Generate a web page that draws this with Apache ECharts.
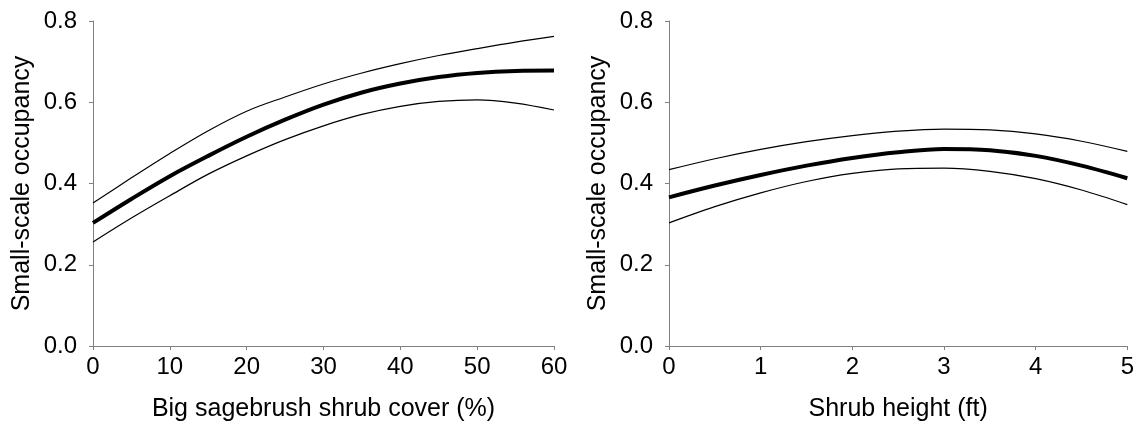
<!DOCTYPE html>
<html>
<head>
<meta charset="utf-8">
<script src="https://cdn.jsdelivr.net/npm/echarts@6/dist/echarts.min.js"></script>
<style>
    html, body { margin: 0; padding: 0; background: #fff; }
    #chart { width: 1137px; height: 430px; }
</style>
</head>
<body>
<div id="chart"></div>
<script>
// left panel: big sagebrush shrub cover (%)
var coverX = [0, 5, 10, 15, 20, 25, 30, 35, 40, 45, 50, 55, 60];
var coverMean = [0.303, 0.362, 0.418, 0.468, 0.515, 0.557, 0.594, 0.624, 0.646, 0.662, 0.672, 0.677, 0.678];
var coverUpper = [0.352, 0.414, 0.474, 0.530, 0.578, 0.613, 0.645, 0.672, 0.695, 0.715, 0.732, 0.748, 0.762];
var coverLower = [0.256, 0.315, 0.370, 0.423, 0.468, 0.508, 0.542, 0.570, 0.590, 0.602, 0.606, 0.598, 0.581];

// right panel: shrub height (ft)
var heightX = [0, 0.5, 1, 1.5, 2, 2.5, 3, 3.5, 4, 4.5, 5];
var heightMean = [0.366, 0.395, 0.421, 0.444, 0.463, 0.477, 0.485, 0.482, 0.468, 0.444, 0.413];
var heightUpper = [0.434, 0.461, 0.484, 0.503, 0.518, 0.529, 0.534, 0.532, 0.522, 0.504, 0.479];
var heightLower = [0.303, 0.343, 0.377, 0.405, 0.425, 0.436, 0.438, 0.430, 0.412, 0.384, 0.348];

var yTicks = ['0.0', '0.2', '0.4', '0.6', '0.8'];

function pairs(xs, ys) {
    return xs.map(function (x, i) { return [x, ys[i]]; });
}

var font = 'Liberation Sans, Arial, sans-serif';
var axisColor = '#808080';

function xAxis(idx, name, max, interval) {
    return {
        gridIndex: idx,
        type: 'value',
        min: 0,
        max: max,
        interval: interval,
        name: name,
        nameLocation: 'middle',
        nameGap: 51,
        nameTextStyle: { color: '#000', fontSize: 25, fontFamily: font },
        axisLine: { show: true, lineStyle: { color: axisColor, width: 1 } },
        axisTick: { show: true, inside: false, length: 4, lineStyle: { color: axisColor } },
        axisLabel: { color: '#000', fontSize: 24, fontFamily: font, margin: 9 },
        splitLine: { show: false }
    };
}

function yAxis(idx) {
    return {
        gridIndex: idx,
        type: 'value',
        min: 0,
        max: 0.8,
        interval: 0.2,
        name: 'Small-scale occupancy',
        nameLocation: 'middle',
        nameGap: 58,
        nameTextStyle: { color: '#000', fontSize: 25, fontFamily: font },
        axisLine: { show: true, lineStyle: { color: axisColor, width: 1 } },
        axisTick: { show: true, inside: false, length: 4, lineStyle: { color: axisColor } },
        axisLabel: {
            color: '#000', fontSize: 24, fontFamily: font, margin: 16,
            formatter: function (v) { return yTicks[Math.round(v / 0.2)]; }
        },
        splitLine: { show: false }
    };
}

function line(idx, data, width) {
    return {
        type: 'line',
        xAxisIndex: idx,
        yAxisIndex: idx,
        data: data,
        smooth: 0.35,
        showSymbol: false,
        silent: true,
        lineStyle: { color: '#000', width: width }
    };
}

var option = {
    animation: false,
    backgroundColor: '#fff',
    grid: [
        { left: 93, top: 21, width: 461, height: 325 },
        { left: 669, top: 21, width: 462, height: 325 }
    ],
    xAxis: [
        xAxis(0, 'Big sagebrush shrub cover (%)', 60, 10),
        xAxis(1, 'Shrub height (ft)', 5, 1)
    ],
    yAxis: [yAxis(0), yAxis(1)],
    series: [
        line(0, pairs(coverX, coverUpper), 1.2),
        line(0, pairs(coverX, coverLower), 1.2),
        line(0, pairs(coverX, coverMean), 4),
        line(1, pairs(heightX, heightUpper), 1.2),
        line(1, pairs(heightX, heightLower), 1.2),
        line(1, pairs(heightX, heightMean), 4)
    ]
};

var myChart = echarts.init(document.getElementById('chart'), null, { renderer: 'canvas' });
myChart.setOption(option);
</script>
</body>
</html>
